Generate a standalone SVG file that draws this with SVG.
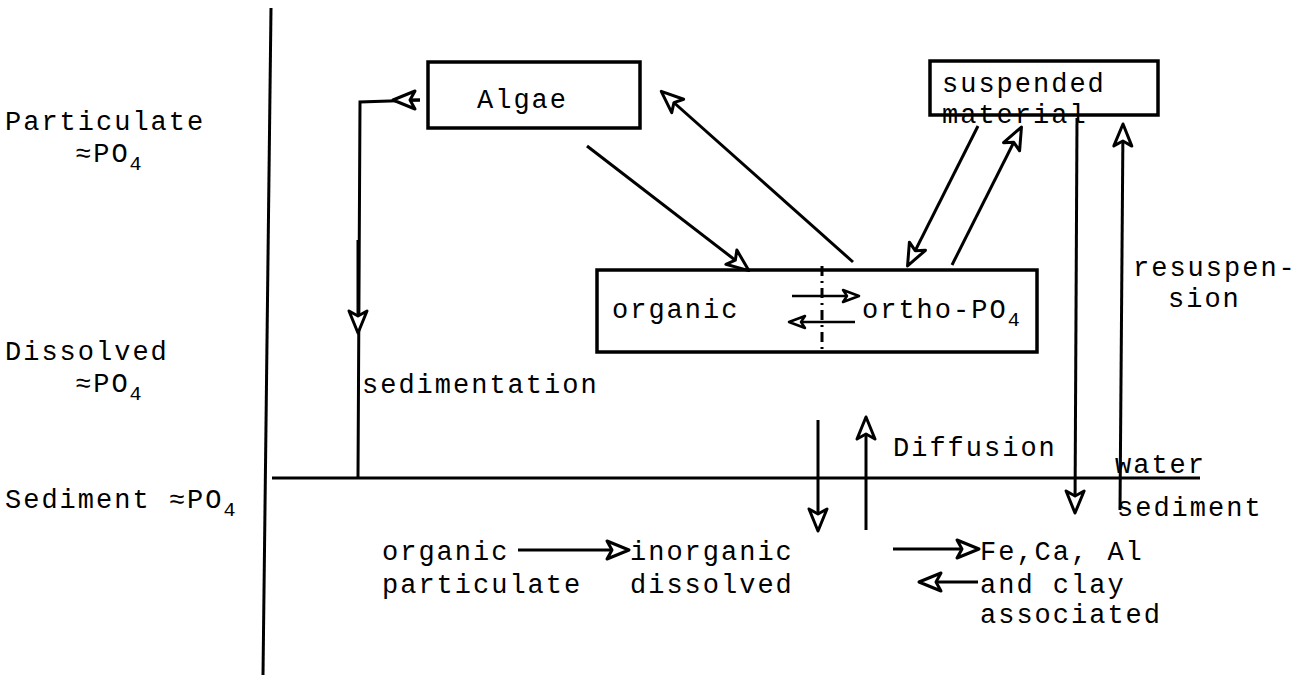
<svg xmlns="http://www.w3.org/2000/svg" width="1296" height="679" viewBox="0 0 1296 679">
<style>
text{font-family:"Liberation Mono","DejaVu Sans Mono",monospace;font-size:27px;letter-spacing:2px;fill:#000}
.sub{font-size:20px}
.box{fill:none;stroke:#000;stroke-width:3.5}
.ln{fill:none;stroke:#000;stroke-width:3}
.arr{fill:none;stroke:#000;stroke-width:3;marker-end:url(#ah)}
.arrs{fill:none;stroke:#000;stroke-width:2.5;marker-end:url(#ahs)}
</style>
<defs>
<marker id="ah" markerUnits="userSpaceOnUse" markerWidth="28" markerHeight="22" refX="21" refY="9" orient="auto" overflow="visible">
<path d="M0,0 L22,9 L0,18 L5,9 Z" fill="#fff" stroke="#000" stroke-width="3" stroke-linejoin="round"/>
</marker>
<marker id="ahs" markerUnits="userSpaceOnUse" markerWidth="20" markerHeight="16" refX="15" refY="6" orient="auto" overflow="visible">
<path d="M0,0 L16,6 L0,12 L4,6 Z" fill="#fff" stroke="#000" stroke-width="2.5" stroke-linejoin="round"/>
</marker>
</defs>
<rect width="1296" height="679" fill="#fff"/>

<g id="axes">
<path class="ln" d="M271,8 L263,675" stroke-width="3.5"/>
<path class="ln" d="M272,478 L1200,478"/>
</g>

<g id="labels">
<text x="5" y="130">Particulate</text>
<text x="75" y="162">≈PO<tspan class="sub" dy="8">4</tspan></text>
<text x="5" y="360">Dissolved</text>
<text x="75" y="392">≈PO<tspan class="sub" dy="8">4</tspan></text>
<text x="5" y="508">Sediment ≈PO<tspan class="sub" dy="8">4</tspan></text>
<text x="362" y="393">sedimentation</text>
<text x="1133" y="276">resuspen-</text>
<text x="1168" y="307">sion</text>
<text x="893" y="456">Diffusion</text>
<text x="1115" y="473">water</text>
<text x="1117" y="516">sediment</text>
</g>

<g id="algae">
<rect class="box" x="428" y="62" width="212" height="66"/>
<text x="477" y="108">Algae</text>
</g>

<g id="suspended">
<rect class="box" x="930" y="61" width="228" height="54"/>
<text x="942" y="92">suspended</text>
<text x="942" y="123">material</text>
</g>

<g id="dissolved-box">
<rect class="box" x="597" y="270" width="440" height="82"/>
<path class="ln" d="M822,266 L822,352" stroke-width="2.5" stroke-dasharray="10 5 2 5"/>
<text x="612" y="318">organic</text>
<text x="862" y="318">ortho-PO<tspan class="sub" dy="8">4</tspan></text>
</g>

<g id="sediment-compartments">
<text x="382" y="560">organic</text>
<text x="382" y="593">particulate</text>
<text x="630" y="560">inorganic</text>
<text x="630" y="593">dissolved</text>
<text x="980" y="560">Fe,Ca, Al</text>
<text x="980" y="593">and clay</text>
<text x="980" y="623">associated</text>
</g>

<g id="connectors">
<path class="ln" d="M420,100 L360,102 L358,478"/>
<path class="arr" d="M420,100 L394,100"/>
<path class="arr" d="M358,240 L358,332"/>
<path class="arr" d="M587,146 L748,270"/>
<path class="arr" d="M853,262 L662,92"/>
<path class="arr" d="M978,126 L908,265"/>
<path class="arr" d="M952,265 L1021,128"/>
<path class="arr" d="M1077,118 L1075,512"/>
<path class="arr" d="M1120,510 L1123,125"/>
<path class="arrs" d="M792,296 L858,296"/>
<path class="arrs" d="M855,322 L790,322"/>
<path class="arr" d="M818,420 L818,530"/>
<path class="arr" d="M866,530 L866,418"/>
<path class="arr" d="M518,550 L628,550"/>
<path class="arr" d="M893,549 L978,549"/>
<path class="arr" d="M978,582 L920,582"/>
</g>
</svg>
